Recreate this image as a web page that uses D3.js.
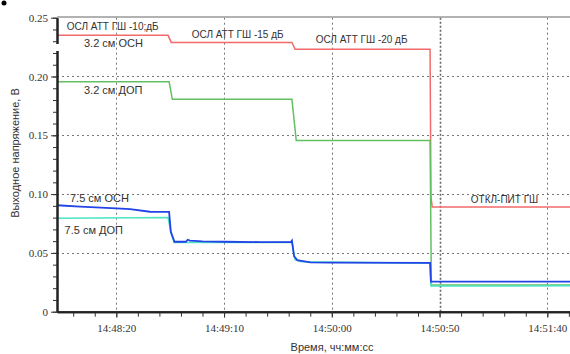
<!DOCTYPE html>
<html>
<head>
<meta charset="utf-8">
<script src="https://cdn.jsdelivr.net/npm/d3@7"></script>
<style>
  body { margin: 0; background: #fff; }
  svg { display: block; }
  text { font-family: "Liberation Sans", Arial, sans-serif; fill: #333; }
</style>
</head>
<body>
<svg width="570" height="354"></svg>
<script>
// times are hh:mm:ss(.s), values in volts
const redTimes = ["14:47:52.5", "14:48:44", "14:48:45.5", "14:49:41.5", "14:49:43", "14:50:45.6", "14:50:46", "14:50:46.6", "14:51:51"];
const redValues = [0.235, 0.235, 0.229, 0.229, 0.2231, 0.2231, 0.098, 0.089, 0.089];

const greenTimes = ["14:47:52.5", "14:48:44.5", "14:48:46", "14:49:41.5", "14:49:43.5", "14:50:45.6", "14:50:46.2", "14:51:51"];
const greenValues = [0.1956, 0.1956, 0.1806, 0.1806, 0.1455, 0.1455, 0.0227, 0.0227];

const cyanTimes = ["14:47:52.5", "14:48:44", "14:48:45.5", "14:48:46.8", "14:49:41.5", "14:49:43", "14:49:46", "14:50:45.6", "14:50:46", "14:51:51"];
const cyanValues = [0.0794, 0.08, 0.066, 0.0588, 0.059, 0.044, 0.0425, 0.0413, 0.0219, 0.022];

const blueTimes = ["14:47:52.5", "14:48:03.2", "14:48:20", "14:48:26.4", "14:48:35.6", "14:48:44.5", "14:48:45.3", "14:48:46.2", "14:48:47", "14:48:52.3", "14:48:53.1", "14:48:54.2", "14:49:00", "14:49:10", "14:49:26.6", "14:49:41", "14:49:41.5", "14:49:42.5", "14:49:44", "14:49:50", "14:49:59", "14:50:45.6", "14:50:46", "14:51:51"];
const blueValues = [0.0905, 0.0893, 0.0879, 0.0873, 0.085, 0.0848, 0.068, 0.0635, 0.0595, 0.0595, 0.0612, 0.0605, 0.0598, 0.0595, 0.0592, 0.0592, 0.0605, 0.047, 0.0438, 0.042, 0.0417, 0.0415, 0.0255, 0.0255];

const xMajorTicks = ["14:48:20", "14:49:10", "14:50:00", "14:50:50", "14:51:40"];
const yMajorTicks = [0, 0.05, 0.1, 0.15, 0.2, 0.25];

const annotations = [
  { text: "ОСЛ АТТ ГШ -10;дБ", t: "14:47:57", v: 0.2425, size: 10 },
  { text: "3.2 см ОСН", t: "14:48:05", v: 0.2285, size: 11 },
  { text: "ОСЛ АТТ ГШ -15 дБ", t: "14:48:55", v: 0.2361, size: 10 },
  { text: "ОСЛ АТТ ГШ -20 дБ", t: "14:49:52.5", v: 0.2318, size: 10 },
  { text: "3.2 см ДОП", t: "14:48:05", v: 0.1885, size: 11 },
  { text: "7.5 см ОСН", t: "14:47:58.5", v: 0.0968, size: 11 },
  { text: "7.5 см ДОП", t: "14:47:56", v: 0.0695, size: 11 },
  { text: "ОТКЛ-ПИТ ГШ", t: "14:51:04.5", v: 0.0955, size: 10 }
];

const svg = d3.select("svg");

const toDate = s => {
  const [h, m, sec] = s.split(":");
  return new Date(2020, 0, 1, +h, +m, 0, Math.round(+sec * 1000));
};

const plotLeft = 57;
const plotRight = 570;
const plotTop = 17.7;
const plotBottom = 311.7;

// scale pinned on two known tick positions, then stretched to the plot edges
const x = d3.scaleTime()
  .domain([toDate("14:48:20"), toDate("14:51:40")])
  .range([116.3, 547.3]);
x.domain([x.invert(plotLeft), x.invert(plotRight)]).range([plotLeft, plotRight]);

const y = d3.scaleLinear().domain([0, 0.25]).range([plotBottom, plotTop]);

// grid
const grid = svg.append("g").attr("stroke", "#777").attr("stroke-width", 1);

grid.selectAll(".hg")
  .data(yMajorTicks.filter(d => d > 0 && d < 0.25))
  .join("line")
  .attr("x1", plotLeft)
  .attr("x2", plotRight)
  .attr("y1", d => Math.round(y(d)) + 0.5)
  .attr("y2", d => Math.round(y(d)) + 0.5)
  .attr("stroke-dasharray", "2,3");

grid.selectAll(".vg")
  .data(xMajorTicks)
  .join("line")
  .attr("x1", d => Math.round(x(toDate(d))) + 0.5)
  .attr("x2", d => Math.round(x(toDate(d))) + 0.5)
  .attr("y1", plotTop)
  .attr("y2", plotBottom)
  .attr("stroke", d => d === "14:50:50" ? "#666" : "#777")
  .attr("stroke-dasharray", d => d === "14:50:50" ? "2,2" : "2,3")
  .attr("stroke-width", d => d === "14:50:50" ? 1.6 : 1);

// top border
svg.append("line")
  .attr("x1", plotLeft)
  .attr("x2", plotRight)
  .attr("y1", 17)
  .attr("y2", 17)
  .attr("stroke", "#999")
  .attr("stroke-width", 1.5);

// series
const line = d3.line()
  .x(d => x(d[0]))
  .y(d => y(d[1]));

const series = [
  { times: redTimes, values: redValues, color: "#f26a6a", width: 1.5 },
  { times: greenTimes, values: greenValues, color: "#62c062", width: 1.5 },
  { times: cyanTimes, values: cyanValues, color: "#4de3c4", width: 1.5 },
  { times: blueTimes, values: blueValues, color: "#2244e6", width: 1.8 }
];

svg.append("g")
  .selectAll("path")
  .data(series)
  .join("path")
  .attr("fill", "none")
  .attr("stroke", d => d.color)
  .attr("stroke-width", d => d.width)
  .attr("d", d => line(d.times.map((t, i) => [toDate(t), d.values[i]])));

// axes
const xAxisMinor = svg.append("g")
  .attr("transform", `translate(0, ${plotBottom})`)
  .call(d3.axisBottom(x).ticks(d3.timeSecond.every(10)).tickSize(5).tickSizeOuter(0).tickFormat(""));

const xAxis = svg.append("g")
  .attr("transform", `translate(0, ${plotBottom})`)
  .attr("font-family", "'Liberation Serif', 'Times New Roman', serif")
  .attr("font-size", 11)
  .call(d3.axisBottom(x)
    .tickValues(xMajorTicks.map(toDate))
    .tickSize(6)
    .tickSizeOuter(0)
    .tickFormat(d3.timeFormat("%H:%M:%S")));
xAxis.selectAll(".tick text").attr("dy", "1.05em");

const yAxisMinor = svg.append("g")
  .attr("transform", `translate(${plotLeft}, 0)`)
  .call(d3.axisLeft(y).ticks(25).tickSize(4).tickSizeOuter(0).tickFormat(""));

const yAxis = svg.append("g")
  .attr("transform", `translate(${plotLeft}, 0)`)
  .call(d3.axisLeft(y)
    .tickValues(yMajorTicks)
    .tickSize(6)
    .tickSizeOuter(0)
    .tickFormat(d => d === 0 ? "0" : d3.format(".2f")(d)));

svg.selectAll(".tick text")
  .style("font-family", "'Liberation Serif', 'Times New Roman', serif")
  .style("font-size", "11px");

svg.selectAll(".domain").attr("stroke", "#222").attr("stroke-width", 2);
svg.selectAll(".tick line").attr("stroke", "#333").attr("stroke-width", 1);

// little gap in the axis line seen in the original
svg.append("rect")
  .attr("x", plotLeft - 2)
  .attr("y", 44)
  .attr("width", 4)
  .attr("height", 7)
  .attr("fill", "#fff");

// annotations
svg.append("g")
  .selectAll("text")
  .data(annotations)
  .join("text")
  .attr("x", d => x(toDate(d.t)))
  .attr("y", d => y(d.v))
  .attr("dy", "0.35em")
  .attr("font-size", d => d.size)
  .text(d => d.text);

// axis titles
svg.append("text")
  .attr("x", 332)
  .attr("y", 347)
  .attr("dy", "0.35em")
  .attr("text-anchor", "middle")
  .attr("font-size", 11)
  .text("Время, чч:мм:сс");

svg.append("text")
  .attr("transform", "translate(15, 153) rotate(-90)")
  .attr("dy", "0.35em")
  .attr("text-anchor", "middle")
  .attr("font-size", 11)
  .text("Выходное напряжение, В");

// stray dot in the corner of the scan
svg.append("circle")
  .attr("cx", 4)
  .attr("cy", 3)
  .attr("r", 2.5)
  .attr("fill", "#000");
</script>
</body>
</html>
